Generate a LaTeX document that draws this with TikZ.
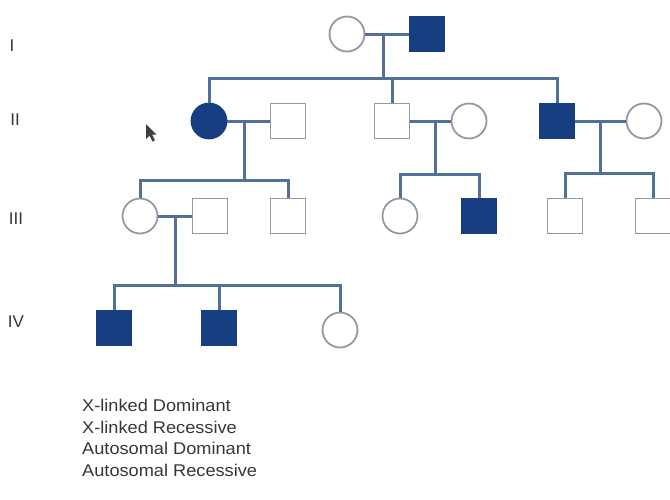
\documentclass[tikz,border=0pt]{standalone}
\usepackage{fontspec}
\setmainfont{Liberation Sans}
\newfontfamily\legendfont[FakeStretch=1.07]{Liberation Sans}
\definecolor{affect}{RGB}{22,62,128}
\definecolor{linkblue}{RGB}{82,112,152}
\definecolor{outline}{RGB}{150,152,160}
\definecolor{labelgray}{RGB}{55,55,55}
\tikzset{
  person/.style={inner sep=0pt, minimum size=35pt, line width=1.8pt, draw=outline, fill=white},
  male/.style={person, rectangle},
  female/.style={person, circle},
  affected/.style={fill=affect, draw=affect},
  link/.style={draw=linkblue, line width=3pt},
  gen/.style={text=labelgray, font=\fontsize{17}{17}\selectfont, inner sep=0pt},
  legend/.style={text=labelgray, font=\legendfont\fontsize{17}{17}\selectfont, anchor=west, inner sep=0pt}
}
\begin{document}
\begin{tikzpicture}[x=1pt,y=-1pt]
\useasboundingbox (0,0) rectangle (670,499);
\fill[white] (0,0) rectangle (670,499);

% generation labels
\node[gen] (gI)   at (12,46)  {I};
\node[gen] (gII)  at (15,120) {II};
\node[gen] (gIII) at (16,219) {III};
\node[gen] (gIV)  at (16,322) {IV};

% mouse pointer
\fill[black!75] (146,124) -- (146,139) -- (149.5,135.5) -- (152.5,141.5) -- (155,140.3)
  -- (152,134.5) -- (156.5,134.5) -- cycle;

% marriage midpoints and sibship lines
\coordinate (u1) at (383,34);
\coordinate (s1) at (383,78);
\coordinate (u2) at (244,121);
\coordinate (s2) at (244,180);
\coordinate (u3) at (435,121);
\coordinate (s3) at (435,174);
\coordinate (u4) at (600,121);
\coordinate (s4) at (600,173);
\coordinate (u5) at (175,216);
\coordinate (s5) at (175,285);

% generation I
\node[female] (f1) at (347,34) {};
\node[male, affected] (m1) at (427,34) {};

% generation II
\node[female, affected] (f2) at (209,121) {};
\node[male] (m2a) at (288,121) {};
\node[male] (m2) at (392,121) {};
\node[female] (f2b) at (469,121) {};
\node[male, affected] (m3) at (557,121) {};
\node[female] (f3) at (644,121) {};

% generation III
\node[female] (f3a) at (140,216) {};
\node[male] (m3a) at (210,216) {};
\node[male] (m3b) at (288,216) {};
\node[female] (f3c) at (400,216) {};
\node[male, affected] (m3c) at (479,216) {};
\node[male] (m3d) at (565,216) {};
\node[male] (m3e) at (653,216) {};

% generation IV
\node[male, affected] (m4a) at (114,328) {};
\node[male, affected] (m4b) at (219,328) {};
\node[female] (f4) at (340,330) {};

% marriages and descent lines
\draw[link] (f1.east) -- (m1.west);
\draw[link] (u1) -- (s1);
\draw[link] (f2.north) |- (s1) -| (m3.north);
\draw[link] (s1 -| m2) -- (m2.north);

\draw[link] (f2.east) -- (m2a.west);
\draw[link] (u2) -- (s2);
\draw[link] (f3a.north) |- (s2) -| (m3b.north);

\draw[link] (m2.east) -- (f2b.west);
\draw[link] (u3) -- (s3);
\draw[link] (f3c.north) |- (s3) -| (m3c.north);

\draw[link] (m3.east) -- (f3.west);
\draw[link] (u4) -- (s4);
\draw[link] (m3d.north) |- (s4) -| (m3e.north);

\draw[link] (f3a.east) -- (m3a.west);
\draw[link] (u5) -- (s5);
\draw[link] (m4a.north) |- (s5) -| (f4.north);
\draw[link] (s5 -| m4b) -- (m4b.north);

% answer choices
\node[legend] (l1) at (82,405) {X-linked Dominant};
\node[legend] (l2) at (82,427) {X-linked Recessive};
\node[legend] (l3) at (82,448) {Autosomal Dominant};
\node[legend] (l4) at (82,470) {Autosomal Recessive};
\end{tikzpicture}
\end{document}
